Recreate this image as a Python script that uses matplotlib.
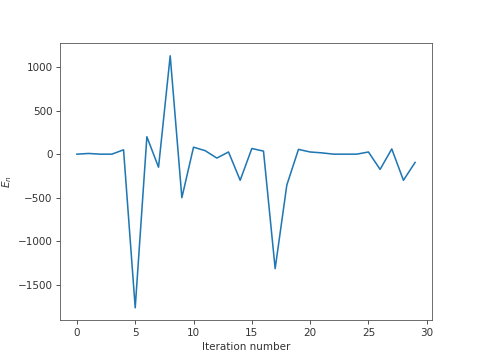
import matplotlib
matplotlib.use("Agg")
from matplotlib import pyplot as plt
import numpy as np

iterations = np.arange(30)
energy = [0, 8, 0, 0, 50, -1765, 200, -150, 1130, -500,
          80, 40, -45, 25, -300, 65, 35, -1315, -355, 55,
          25, 15, 0, 0, 0, 25, -175, 60, -300, -95]

plt.rcParams["text.color"] = "#333333"
plt.rcParams["axes.labelcolor"] = "#333333"
plt.rcParams["xtick.color"] = "#333333"
plt.rcParams["ytick.color"] = "#333333"
plt.rcParams["axes.edgecolor"] = "#555555"

fig = plt.figure(figsize=(6.4, 4.8), dpi=75)
ax = fig.add_subplot(1, 1, 1)
ax.plot(iterations, energy)
ax.set_xlabel("Iteration number")
ax.set_ylabel(r"$E_n$")
fig.savefig("out.png", dpi=75)
